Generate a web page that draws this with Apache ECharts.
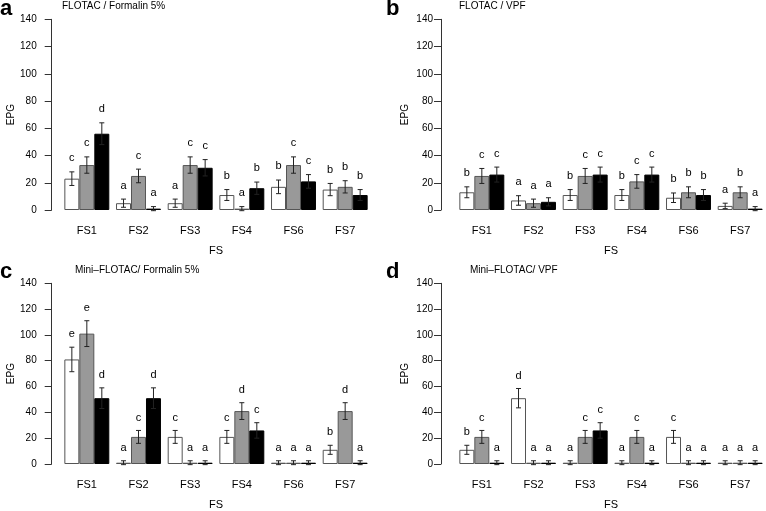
<!DOCTYPE html>
<html>
<head>
<meta charset="utf-8">
<script src="https://cdn.jsdelivr.net/npm/echarts@6/dist/echarts.min.js"></script>
<style>html,body{margin:0;padding:0;background:#fff}#c{width:766px;height:511px}</style>
</head>
<body>
<div id="c"></div>
<script>
const categories = ['FS1','FS2','FS3','FS4','FS6','FS7'];
const yTicks = [0,20,40,60,80,100,120,140];

// Panel a: FLOTAC / Formalin 5%
const aWhite = [23,5,5,11,17,15],   aWhiteSE = [5,3,3,4,5,4.5];
const aGray  = [33,25,33,1,33,17],  aGraySE  = [6,5,6,1.5,6,4.5];
const aBlack = [56,1,31,16,21,11],  aBlackSE = [8,1.5,6,4.5,5,4];
const aWhiteL = ['c','a','a','b','b','b'];
const aGrayL  = ['c','c','c','a','c','b'];
const aBlackL = ['d','a','c','b','c','b'];

// Panel b: FLOTAC / VPF
const bWhite = [13,7,11,11,9,3],    bWhiteSE = [4,3.5,4,4,3.5,2];
const bGray  = [25,5,25,21,13,13],  bGraySE  = [5.5,3,5.5,5,4,4];
const bBlack = [26,6,26,26,11,1],   bBlackSE = [5.5,3,5.5,5.5,4,1.5];
const bWhiteL = ['b','a','b','b','b','a'];
const bGrayL  = ['c','a','c','c','b','b'];
const bBlackL = ['c','a','c','c','b','a'];

// Panel c: Mini-FLOTAC / Formalin 5%
const cWhite = [81,1,21,21,1,11],   cWhiteSE = [9.5,1.5,5,5,1.5,3.5];
const cGray  = [101,21,1,41,1,41],  cGraySE  = [10,5,1.5,6.5,1.5,6.5];
const cBlack = [51,51,1,26,1,1],    cBlackSE = [8,8,1.5,6,1.5,1.5];
const cWhiteL = ['e','a','c','c','a','b'];
const cGrayL  = ['e','c','a','d','a','d'];
const cBlackL = ['d','d','a','c','a','a'];

// Panel d: Mini-FLOTAC / VPF
const dWhite = [11,51,1,1,21,1],    dWhiteSE = [3.5,7.5,1.5,1.5,5,1.5];
const dGray  = [21,1,21,21,1,1],    dGraySE  = [5,1.5,5,5,1.5,1.5];
const dBlack = [1,1,26,1,1,1],      dBlackSE = [1.5,1.5,6,1.5,1.5,1.5];
const dWhiteL = ['b','d','a','a','c','a'];
const dGrayL  = ['c','a','c','c','a','a'];
const dBlackL = ['a','a','c','a','a','a'];

const panelTitles = ['FLOTAC / Formalin 5%','FLOTAC / VPF','Mini\u2013FLOTAC/ Formalin 5%','Mini\u2013FLOTAC/ VPF'];
const panelLetters = ['a','b','c','d'];

const FONT = '"Liberation Sans", Arial, Helvetica, sans-serif';
const GAP = 0.13;
const LABEL_OFFSET = 10;

const panels = [
  {ser:[[aWhite,aWhiteSE,aWhiteL],[aGray,aGraySE,aGrayL],[aBlack,aBlackSE,aBlackL]]},
  {ser:[[bWhite,bWhiteSE,bWhiteL],[bGray,bGraySE,bGrayL],[bBlack,bBlackSE,bBlackL]]},
  {ser:[[cWhite,cWhiteSE,cWhiteL],[cGray,cGraySE,cGrayL],[cBlack,cBlackSE,cBlackL]]},
  {ser:[[dWhite,dWhiteSE,dWhiteL],[dGray,dGraySE,dGrayL],[dBlack,dBlackSE,dBlackL]]}
];

const layout = [
  {left:61, top:19.3, axisX:51.7, labelMargin:15, nameGap:31, titleX:62, titleY:1, letterX:0, letterY:-2},
  {left:456, top:19.3, axisX:441, labelMargin:8, nameGap:30.5, titleX:459, titleY:1, letterX:386, letterY:-2},
  {left:61, top:283.3, axisX:51.7, labelMargin:15, nameGap:31, titleX:75, titleY:265, letterX:0, letterY:261},
  {left:456, top:283.3, axisX:441, labelMargin:8, nameGap:30.5, titleX:470, titleY:265, letterX:386, letterY:261}
];

const barStyles = [
  {color:'#ffffff', borderColor:'#555555', borderWidth:1},
  {color:'#999999', borderColor:'#555555', borderWidth:1},
  {color:'#000000', borderColor:'#000000', borderWidth:1}
];

const grid = [], xAxis = [], yAxis = [], series = [], title = [];
layout.forEach((L, p) => {
  grid.push({left:L.left, top:L.top, width:310, height:190.7});
  xAxis.push({
    type:'category', gridIndex:p, data:categories,
    axisLine:{show:false}, axisTick:{show:false},
    axisLabel:{fontSize:11, color:'#000', fontFamily:FONT, margin:15},
    name:'FS', nameLocation:'middle', nameGap:35,
    nameTextStyle:{fontSize:11, color:'#000', fontFamily:FONT}
  });
  yAxis.push({
    type:'value', gridIndex:p, min:yTicks[0], max:yTicks[yTicks.length-1], interval:yTicks[1]-yTicks[0],
    offset:L.left - L.axisX,
    axisLine:{show:true, lineStyle:{color:'#333', width:1}},
    axisTick:{show:true, length:7, lineStyle:{color:'#333'}},
    axisLabel:{fontSize:10, color:'#000', fontFamily:FONT, margin:L.labelMargin},
    splitLine:{show:false},
    name:'EPG', nameLocation:'middle', nameGap:L.nameGap, nameRotate:90,
    nameTextStyle:{fontSize:10, color:'#000', fontFamily:FONT}
  });
  title.push({text:panelTitles[p], left:L.titleX, top:L.titleY, padding:0,
    textStyle:{fontSize:10, fontWeight:'normal', color:'#000', fontFamily:FONT}});
  title.push({text:panelLetters[p], left:L.letterX, top:L.letterY, padding:0,
    textStyle:{fontSize:22, fontWeight:'bold', color:'#000', fontFamily:FONT}});

  panels[p].ser.forEach((s, k) => {
    const [vals, ses, letters] = s;
    series.push({
      type:'bar', xAxisIndex:p, yAxisIndex:p, data:vals,
      barGap:'0%', barCategoryGap:(GAP*100)+'%',
      itemStyle:barStyles[k], silent:true, animation:false
    });
    series.push({
      type:'custom', xAxisIndex:p, yAxisIndex:p, z:5, silent:true, animation:false, clip:false,
      data: vals.map((v,i) => [i, v, ses[i]]),
      renderItem: (params, api) => {
        const i = api.value(0), m = api.value(1), e = api.value(2);
        const c = api.coord([i, 0]);
        const catW = api.size([1, 0])[0];
        const bw = catW * (1 - GAP) / 3;
        const x = c[0] + (k - 1) * bw;
        const yT = api.coord([i, m + e])[1];
        const yB = api.coord([i, m - e])[1];
        const yL = api.coord([i, m + e + LABEL_OFFSET])[1];
        const ls = {stroke:'#222', lineWidth:1};
        return {type:'group', children:[
          {type:'line', shape:{x1:x, y1:yT, x2:x, y2:yB}, style:ls},
          {type:'line', shape:{x1:x-2.5, y1:yT, x2:x+2.5, y2:yT}, style:ls},
          {type:'line', shape:{x1:x-2.5, y1:yB, x2:x+2.5, y2:yB}, style:ls},
          {type:'text', style:{text:letters[params.dataIndex], x:x, y:yL, align:'center', verticalAlign:'middle',
            font:'11px ' + FONT, fill:'#000'}}
        ]};
      }
    });
  });
});

const chart = echarts.init(document.getElementById('c'), null, {renderer:'canvas'});
chart.setOption({animation:false, backgroundColor:'#fff', title, grid, xAxis, yAxis, series});
</script>
</body>
</html>
